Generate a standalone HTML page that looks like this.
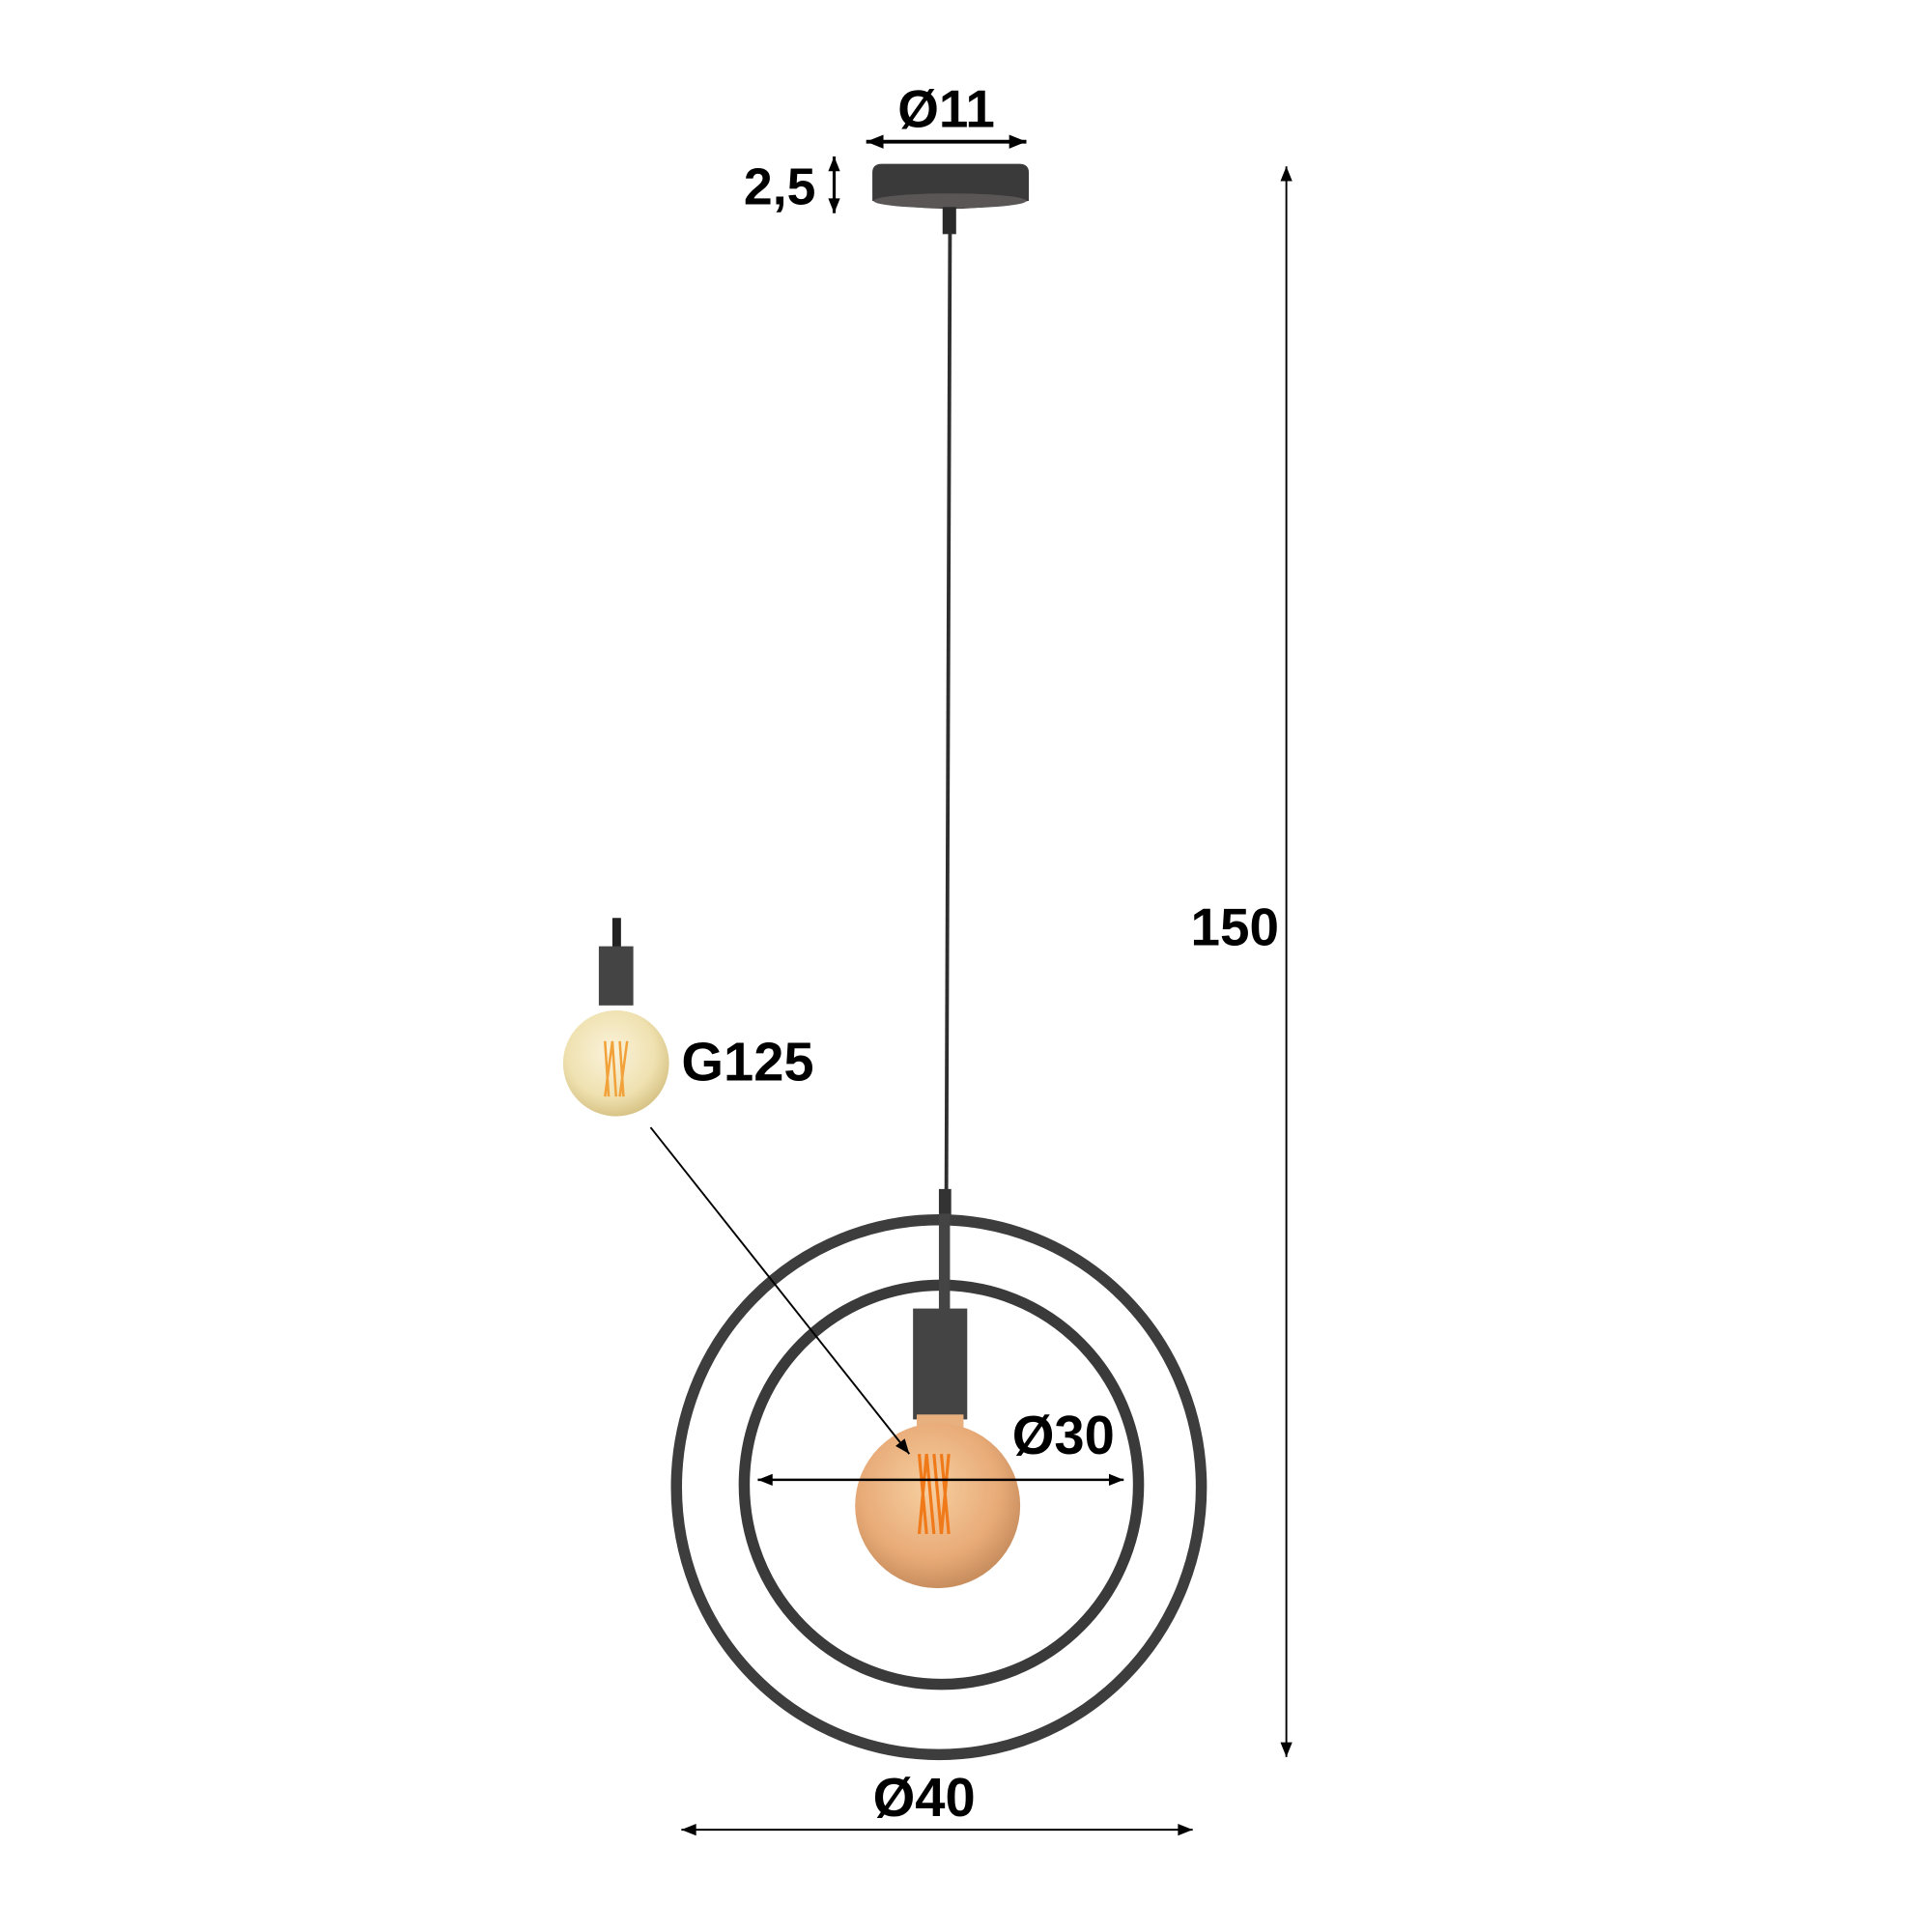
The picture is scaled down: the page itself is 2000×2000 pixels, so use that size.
<!DOCTYPE html>
<html><head><meta charset="utf-8"><style>html,body{margin:0;padding:0;background:#fff}svg{display:block}</style></head>
<body>
<svg width="2000" height="2000" viewBox="0 0 1568 1568" xmlns="http://www.w3.org/2000/svg">
<defs>
<marker id="b" viewBox="0 0 10 10" refX="10" refY="5" markerWidth="16" markerHeight="12" orient="auto-start-reverse" markerUnits="userSpaceOnUse"><path d="M0,1 L10,5 L0,9 z" fill="#000"/></marker>
<marker id="c" viewBox="0 0 10 10" refX="10" refY="5" markerWidth="22" markerHeight="14" orient="auto-start-reverse" markerUnits="userSpaceOnUse"><path d="M0,1 L10,5 L0,9 z" fill="#000"/></marker>
<radialGradient id="g1" cx="0.45" cy="0.4" r="0.6"><stop offset="0" stop-color="#f7cfa0"/><stop offset="0.7" stop-color="#e8ab78"/><stop offset="1" stop-color="#c98e5e"/></radialGradient>
<radialGradient id="g2" cx="0.45" cy="0.4" r="0.6"><stop offset="0" stop-color="#fbf3dc"/><stop offset="0.7" stop-color="#efe1b0"/><stop offset="1" stop-color="#d8c487"/></radialGradient>
</defs>
<g font-family="Liberation Sans, sans-serif" font-weight="bold" fill="#000">
<text x="768" y="103" font-size="43" text-anchor="middle">Ø11</text>
<text x="662" y="166" font-size="42" text-anchor="end">2,5</text>
<text x="1038" y="767" font-size="43" text-anchor="end">150</text>
<text x="553" y="877" font-size="44">G125</text>
<text x="863" y="1180" font-size="44" text-anchor="middle">Ø30</text>
<text x="750" y="1474" font-size="44" text-anchor="middle">Ø40</text>
</g>
<line x1="703" y1="115" x2="833" y2="115" stroke="#000" stroke-width="3" marker-start="url(#c)" marker-end="url(#c)"/>
<line x1="677" y1="127" x2="677" y2="173" stroke="#000" stroke-width="2.5" marker-start="url(#b)" marker-end="url(#b)"/>
<line x1="1044" y1="135" x2="1044" y2="1426" stroke="#000" stroke-width="1.5" marker-start="url(#b)" marker-end="url(#b)"/>
<line x1="553" y1="1485" x2="968" y2="1485" stroke="#000" stroke-width="1.5" marker-start="url(#b)" marker-end="url(#b)"/>
<path d="M708,140 Q708,133 716,133 L827,133 Q835,133 835,140 L835,163 Q771,176 708,163 Z" fill="#3a3a3a"/>
<ellipse cx="771" cy="163" rx="62" ry="6" fill="#5a5656"/>
<rect x="765" y="168" width="11" height="22" fill="#2a2a2a"/>
<line x1="771" y1="188" x2="768" y2="975" stroke="#2e2e2e" stroke-width="3"/>
<rect x="762" y="965" width="10" height="22" fill="#333"/>
<ellipse cx="762" cy="1207" rx="213" ry="217" fill="none" stroke="#3d3d3d" stroke-width="9"/>
<ellipse cx="764" cy="1205" rx="160" ry="162" fill="none" stroke="#3a3a3a" stroke-width="9"/>
<rect x="762" y="985" width="9" height="80" fill="#444"/>
<rect x="741" y="1062" width="44" height="90" fill="#444"/>
<rect x="744" y="1148" width="38" height="25" fill="#e8b07e"/>
<circle cx="761" cy="1222" r="67" fill="url(#g1)"/>
<g stroke="#f07a1a" stroke-width="2.5" fill="none"><path d="M746,1180 L752,1245 M752,1180 L758,1245 M758,1180 L764,1245 M764,1180 L770,1245 M770,1180 L764,1245 M746,1245 L752,1180"/></g>
<line x1="615" y1="1201" x2="912" y2="1201" stroke="#000" stroke-width="2" marker-start="url(#b)" marker-end="url(#b)"/>
<rect x="497" y="745" width="7" height="25" fill="#222"/>
<rect x="486" y="768" width="28" height="48" fill="#444"/>
<circle cx="500" cy="863" r="43" fill="url(#g2)"/>
<g stroke="#f2a23a" stroke-width="2" fill="none"><path d="M491,845 L494,890 M497,845 L500,890 M503,845 L506,890 M509,845 L503,890 M491,890 L497,845"/></g>
<line x1="528" y1="915" x2="738" y2="1180" stroke="#000" stroke-width="1.5" marker-end="url(#b)"/>
</svg>
</body></html>
